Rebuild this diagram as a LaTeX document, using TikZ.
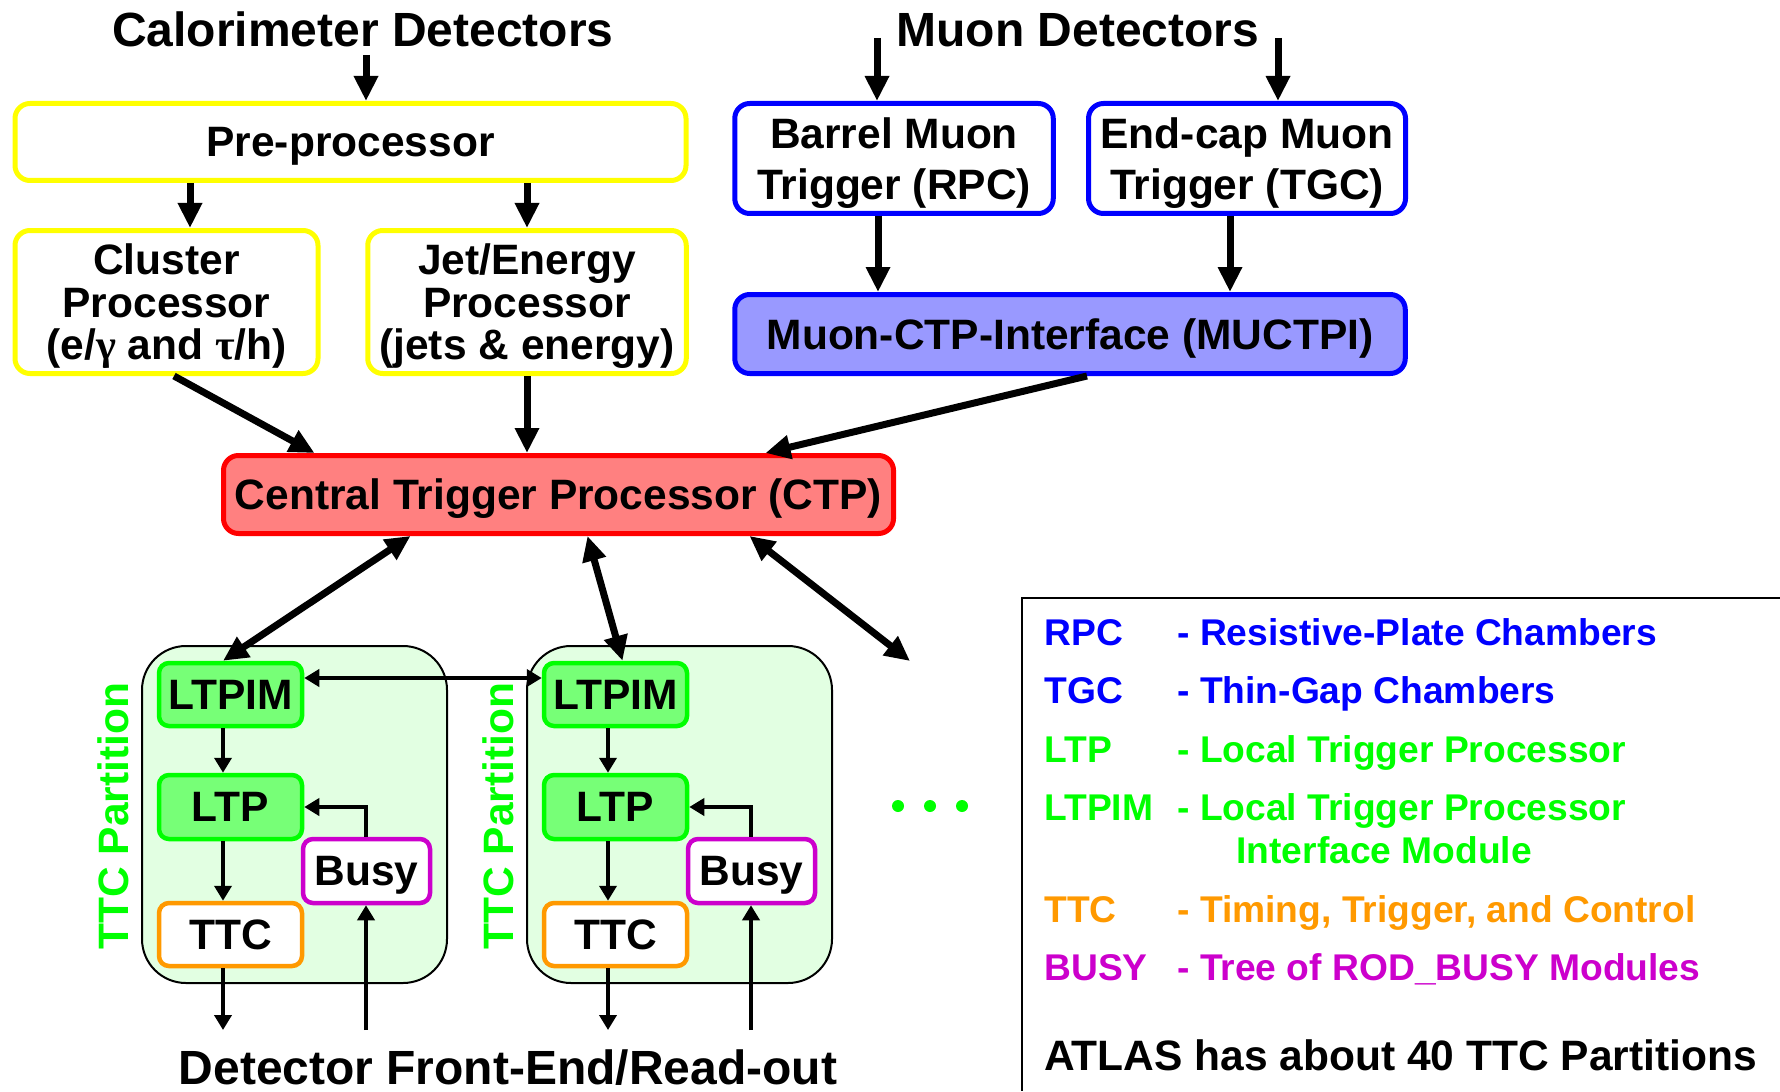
\documentclass[tikz,border=0pt]{standalone}
\usepackage{fontspec}
\setmainfont{Liberation Sans}
\newfontfamily\grkfont{Liberation Serif}
\usetikzlibrary{arrows.meta,calc}

\definecolor{cyel}{HTML}{FFFF00}
\definecolor{cblue}{HTML}{0000FF}
\definecolor{cmufill}{HTML}{9999FF}
\definecolor{cred}{HTML}{FF0000}
\definecolor{cctpfill}{HTML}{FF8080}
\definecolor{cgreen}{HTML}{00FF00}
\definecolor{cltpfill}{HTML}{77FF77}
\definecolor{corange}{HTML}{FF9900}
\definecolor{cmag}{HTML}{CC00CC}
\definecolor{cpart}{HTML}{E2FFE2}

\newcommand\myBody{\bfseries\fontsize{21.25}{21.25}\selectfont}
\newcommand\myBodyWide{\bfseries\fontsize{21.25}{25.5}\selectfont}
\newcommand\myHead{\bfseries\fontsize{24}{28}\selectfont}
\newcommand\myLeg{\bfseries\fontsize{18.6}{22}\selectfont}

\begin{document}
\begin{tikzpicture}[x=0.5pt,y=-0.5pt,
  every node/.style={inner sep=0pt, font=\myBody},
  bigbox/.style={draw, rounded corners=7.5pt, line width=2.5pt, fill=white, align=center, text depth=0pt},
  ybox/.style={bigbox, draw=cyel},
  bbox/.style={bigbox, draw=cblue},
  smallbox/.style={draw, rounded corners=5pt, line width=2.25pt, fill=white, text depth=0pt,
    minimum width=71.5pt, minimum height=31.5pt},
  gbox/.style={smallbox, draw=cgreen, fill=cltpfill},
  partbg/.style={draw, rounded corners=22pt, line width=1pt, fill=cpart,
    minimum width=152.5pt, minimum height=168.5pt},
  arr/.style={line width=3.5pt, -{Triangle[length=12.5pt,width=11.5pt]}},
  darr/.style={line width=3.5pt, {Triangle[length=12.5pt,width=11.5pt]}-{Triangle[length=12.5pt,width=11.5pt]}},
  sarr/.style={line width=2pt, -{Triangle[length=7.5pt,width=8.5pt]}},
  sdarr/.style={line width=2pt, {Triangle[length=7.5pt,width=8.5pt]}-{Triangle[length=7.5pt,width=8.5pt]}},
  leg/.style={font=\myLeg, anchor=base west},
  head/.style={font=\myHead, anchor=base}
]
\useasboundingbox (0,0) rectangle (1780,1091);

% ---------- headings ----------
\node[head] (calo) at (363,47) {Calorimeter Detectors};
\node[head] (muon) at (1078,47) {Muon Detectors};
\node[head] (fe) at (508,1084) {Detector Front-End/Read-out};

% ---------- calorimeter trigger ----------
\node[ybox, minimum width=335.5pt, minimum height=38.5pt] (pre) at (350.5,142) {Pre-processor};
\node[ybox, minimum width=151.5pt, minimum height=71.5pt] (cl) at (166.5,302)
  {Cluster\\Processor\\(e/{\grkfont γ} and {\grkfont τ}/h)};
\node[ybox, minimum width=159.25pt, minimum height=71.5pt] (jet) at (527,302)
  {Jet/Energy\\Processor\\(jets \& energy)};

% ---------- muon trigger ----------
\node[bbox, font=\myBodyWide, minimum width=159.25pt, minimum height=55pt] (barrel) at (894,158.5)
  {Barrel Muon\\Trigger (RPC)};
\node[bbox, font=\myBodyWide, minimum width=158.5pt, minimum height=55pt] (endcap) at (1247,158.5)
  {End-cap Muon\\Trigger (TGC)};
\node[bbox, fill=cmufill, minimum width=335.25pt, minimum height=39.5pt] (muctpi) at (1070,334)
  {Muon-CTP-Interface (MUCTPI)};

% ---------- central trigger processor ----------
\node[bigbox, draw=cred, fill=cctpfill, minimum width=335pt, minimum height=39pt] (ctp) at (558.5,494.5)
  {Central Trigger Processor (CTP)};

% ---------- arrows into the CTP ----------
\coordinate (calotap) at (366,55);
\coordinate (mutapa) at (877,38);
\coordinate (mutapb) at (1278,38);
\coordinate (xcl) at (190,0);
\coordinate (xba) at (878,0);
\coordinate (xec) at (1230,0);
\draw[arr] (calotap) -- (calotap |- pre.north);
\draw[arr] (pre.south -| xcl) -- (cl.north -| xcl);
\draw[arr] (pre.south -| jet.north) -- (jet.north);
\draw[arr] (mutapa) -- (mutapa |- barrel.north);
\draw[arr] (mutapb) -- (mutapb |- endcap.north);
\draw[arr] (barrel.south -| xba) -- (muctpi.north -| xba);
\draw[arr] (endcap.south -| xec) -- (muctpi.north -| xec);
\draw[arr] ($(cl.south)+(7.5,0)$) -- ($(ctp.north west)+(93.5,0)$);
\draw[arr] (jet.south) -- (jet.south |- ctp.north);
\draw[arr] ($(muctpi.south)+(17,0)$) -- ($(ctp.north west)+(544.5,0)$);

% ---------- TTC partitions ----------
\foreach \i/\dx in {1/0,2/385}{
  \node[partbg] (part\i) at (294.5+\dx,814.5) {};
  \node[gbox] (ltpim\i) at (230.5+\dx,694.5) {LTPIM};
  \node[gbox, minimum height=32pt] (ltp\i) at (230.5+\dx,807) {LTP};
  \node[smallbox, draw=corange] (ttc\i) at (230.5+\dx,934.5) {TTC};
  \node[smallbox, draw=cmag, minimum width=63.5pt, minimum height=32pt] (busy\i) at (366.5+\dx,871) {Busy};
  \node[rotate=90, text=cgreen] (plab\i) at (113+\dx,816) {TTC Partition};
  \coordinate (ax\i) at (223+\dx,0);
  \coordinate (out\i) at (223+\dx,1030);
  \coordinate (in\i) at (366+\dx,1030);
  \draw[sarr] (ltpim\i.south -| ax\i) -- (ltp\i.north -| ax\i);
  \draw[sarr] (ltp\i.south -| ax\i) -- (ttc\i.north -| ax\i);
  \draw[sarr] (ttc\i.south -| ax\i) -- (out\i);
  \draw[sarr] (in\i) -- (in\i |- busy\i.south);
  \draw[sarr] (in\i |- busy\i.north) |- (ltp\i.east);
}

% ---------- links between CTP and partitions ----------
\coordinate (hy) at (0,678);
\coordinate (more) at (910,661);
\draw[sdarr] (ltpim1.east |- hy) -- (ltpim2.west |- hy);
\draw[darr] ($(ctp.south west)+(189.5,0)$) -- (ltpim1.north -| ax1);
\draw[darr] ($(ctp.south west)+(366.5,0)$) -- ($(ltpim2.north)+(7,0)$);
\draw[darr] ($(ctp.south west)+(528.5,0)$) -- (more);

% continuation dots
\foreach \x in {898,930,962} \fill[cgreen] (\x,806) circle (3pt);

% ---------- legend ----------
\draw[line width=1pt] (1780,598) -- (1022,598) -- (1022,1091);
\node[leg, text=cblue] (k1) at (1044,645) {RPC};
\node[leg, text=cblue] (v1) at (1177,645) {- Resistive-Plate Chambers};
\node[leg, text=cblue] (k2) at (1044,703) {TGC};
\node[leg, text=cblue] (v2) at (1177,703) {- Thin-Gap Chambers};
\node[leg, text=cgreen] (k3) at (1044,762) {LTP};
\node[leg, text=cgreen] (v3) at (1177,762) {- Local Trigger Processor};
\node[leg, text=cgreen] (k4) at (1044,820) {LTPIM};
\node[leg, text=cgreen] (v4) at (1177,820) {- Local Trigger Processor};
\node[leg, text=cgreen] (v4b) at (1236,863) {Interface Module};
\node[leg, text=corange] (k5) at (1044,922) {TTC};
\node[leg, text=corange] (v5) at (1177,922) {- Timing, Trigger, and Control};
\node[leg, text=cmag] (k6) at (1044,980) {BUSY};
\node[leg, text=cmag] (v6) at (1177,980) {- Tree of ROD\_BUSY Modules};
\node[anchor=base west] (atlas) at (1044,1070) {ATLAS has about 40 TTC Partitions};
\end{tikzpicture}
\end{document}
